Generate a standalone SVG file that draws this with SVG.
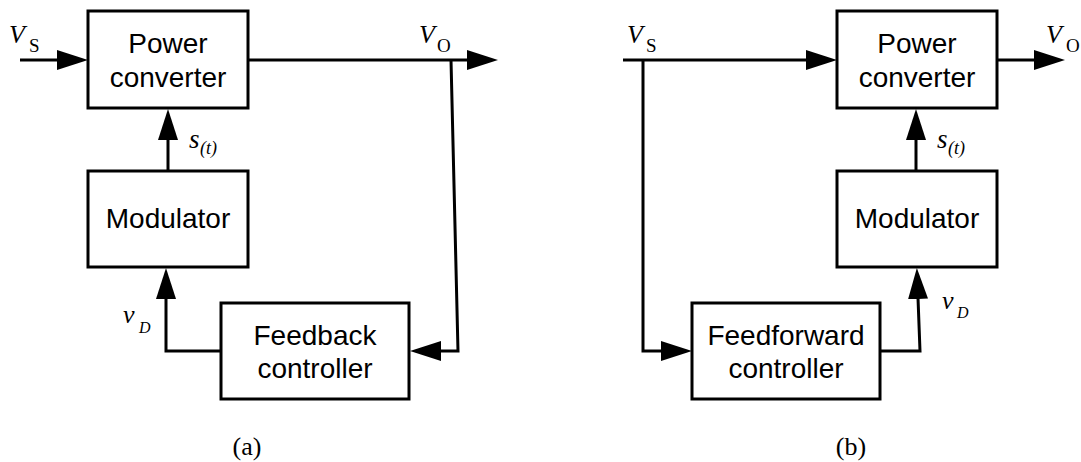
<svg xmlns="http://www.w3.org/2000/svg" width="1081" height="462" viewBox="0 0 1081 462">
<style>
.box{fill:#fff;stroke:#000;stroke-width:3}
.lbl{font-family:"Liberation Sans",Arial,sans-serif;font-size:28px;text-anchor:middle;fill:#000}
.it{font-family:"Liberation Serif","Times New Roman",serif;font-style:italic;fill:#000}
.rm{font-family:"Liberation Serif","Times New Roman",serif;fill:#000}
.ln{fill:none;stroke:#000;stroke-width:3;marker-end:url(#ah)}
.cap{font-family:"Liberation Serif","Times New Roman",serif;font-size:26px;text-anchor:middle;fill:#000}
</style>
<defs>
<marker id="ah" markerUnits="userSpaceOnUse" markerWidth="31" markerHeight="20" viewBox="0 0 31 20" refX="1" refY="10" orient="auto">
<path d="M0,0 L31,10 L0,20 z" fill="#000"/>
</marker>
</defs>
<rect width="1081" height="462" fill="#fff"/>
<g id="connectors">
<path class="ln" d="M20,60 H58"/>
<path class="ln" d="M168,171 V139"/>
<path class="ln" d="M248,60 H468"/>
<path class="ln" d="M451,60 L458,351 H440"/>
<path class="ln" d="M221,351 H166 V298"/>
<path class="ln" d="M623,60 H807"/>
<path class="ln" d="M643,60 V351 H662"/>
<path class="ln" d="M997,60 H1035"/>
<path class="ln" d="M916,171 V139"/>
<path class="ln" d="M880,351 H920 L918,298"/>
</g>
<g id="a-power">
<rect class="box" x="88" y="11" width="160" height="97"/>
<text class="lbl" x="168" y="53">Power</text>
<text class="lbl" x="168" y="87">converter</text>
</g>
<g id="a-mod">
<rect class="box" x="88" y="171" width="160" height="96"/>
<text class="lbl" x="168" y="228">Modulator</text>
</g>
<g id="a-fb">
<rect class="box" x="221" y="303" width="188" height="96"/>
<text class="lbl" x="315" y="345">Feedback</text>
<text class="lbl" x="315" y="378">controller</text>
</g>
<g id="b-power">
<rect class="box" x="837" y="11" width="160" height="97"/>
<text class="lbl" x="917" y="53">Power</text>
<text class="lbl" x="917" y="87">converter</text>
</g>
<g id="b-mod">
<rect class="box" x="837" y="171" width="160" height="96"/>
<text class="lbl" x="917" y="228">Modulator</text>
</g>
<g id="b-ff">
<rect class="box" x="692" y="303" width="188" height="96"/>
<text class="lbl" x="786" y="345">Feedforward</text>
<text class="lbl" x="786" y="378">controller</text>
</g>
<g id="labels">
<text class="it" x="9" y="43" font-size="26">V</text><text class="rm" x="29" y="52" font-size="19">S</text>
<text class="it" x="419" y="43" font-size="26">V</text><text class="rm" x="437" y="52" font-size="19">O</text>
<text class="it" x="189" y="148" font-size="27">s</text><text class="it" x="200" y="154" font-size="18">(t)</text>
<text class="it" x="123" y="323" font-size="26">v</text><text class="it" x="139" y="333" font-size="16">D</text>
<text class="it" x="627" y="43" font-size="26">V</text><text class="rm" x="646" y="52" font-size="19">S</text>
<text class="it" x="1046" y="43" font-size="26">V</text><text class="rm" x="1066" y="52" font-size="19">O</text>
<text class="it" x="937" y="148" font-size="27">s</text><text class="it" x="948" y="154" font-size="18">(t)</text>
<text class="it" x="942" y="309" font-size="26">v</text><text class="it" x="957" y="318" font-size="16">D</text>
</g>
<text class="cap" x="247" y="455">(a)</text>
<text class="cap" x="851" y="455">(b)</text>
</svg>
